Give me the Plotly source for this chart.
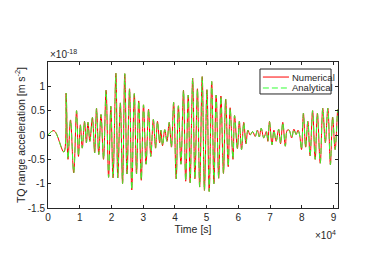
import plotly.graph_objects as go

# Local extrema (time in 1e4 s, acceleration in 1e-18 m s^-2)
time_1e4 = [0.00, 0.19, 0.50, 0.57, 0.63, 0.71, 0.81, 0.90, 0.96, 1.02, 1.08, 1.15, 1.21, 1.26, 1.32,
            1.40, 1.47, 1.53, 1.60, 1.67, 1.75, 1.83, 1.91, 1.98, 2.05, 2.14, 2.20, 2.28, 2.35, 2.42,
            2.49, 2.57, 2.64, 2.72, 2.79, 2.86, 2.94, 3.01, 3.09, 3.17, 3.24, 3.32, 3.39, 3.45, 3.52,
            3.56, 3.61, 3.68, 3.75, 3.82, 3.89, 3.96, 4.04, 4.11, 4.19, 4.27, 4.34, 4.42, 4.48, 4.56,
            4.63, 4.71, 4.78, 4.86, 4.93, 5.01, 5.08, 5.16, 5.23, 5.30, 5.38, 5.45, 5.53, 5.60, 5.68,
            5.74, 5.83, 5.88, 5.97, 6.03, 6.10, 6.17, 6.24, 6.30, 6.37, 6.45, 6.53, 6.60, 6.66, 6.72,
            6.80, 6.88, 6.93, 6.98, 7.06, 7.12, 7.19, 7.27, 7.33, 7.40, 7.48, 7.54, 7.60, 7.68, 7.75,
            7.82, 7.88, 7.93, 7.99, 8.05, 8.12, 8.19, 8.26, 8.34, 8.42, 8.49, 8.58, 8.66, 8.74, 8.82,
            8.90, 8.97, 9.05, 9.13, 9.14]
numerical = [0.00, 0.09, -0.35, 0.86, -0.50, 0.31, -0.78, 0.50, -0.44, 0.21, -0.27, 0.28, -0.16, 0.26, -0.13,
             0.36, -0.37, 0.55, -0.40, 0.42, -0.50, 0.92, -0.87, 0.59, -0.88, 1.27, -0.88, 0.66, -1.00, 1.26,
             -0.80, 0.95, -1.13, 0.85, -0.80, 0.70, -0.93, 0.62, -0.60, 0.53, -0.44, 0.32, -0.27, 0.28, -0.16,
             0.10, -0.22, 0.11, -0.13, 0.26, -0.25, 0.67, -0.90, 0.60, -0.60, 0.92, -0.95, 0.82, -0.98, 1.17,
             -0.90, 0.95, -1.07, 1.20, -1.14, 0.93, -1.16, 1.10, -1.00, 0.82, -0.89, 0.80, -0.79, 0.74, -0.65,
             0.56, -0.50, 0.40, -0.28, 0.28, -0.30, 0.26, -0.18, 0.10, 0.00, 0.07, -0.03, 0.10, -0.04, 0.14,
             -0.06, 0.07, -0.13, 0.28, -0.20, 0.10, -0.13, 0.12, -0.18, 0.26, -0.23, 0.10, 0.10, -0.06, 0.12,
             0.01, 0.10, 0.00, -0.30, 0.45, -0.25, 0.28, -0.43, 0.50, -0.50, 0.45, -0.58, 0.55, -0.16, 0.55,
             -0.61, 0.37, -0.30, 0.52, 0.40]
analytical = [0.00, 0.09, -0.35, 0.86, -0.50, 0.31, -0.78, 0.50, -0.44, 0.21, -0.27, 0.28, -0.16, 0.26, -0.13,
              0.36, -0.37, 0.55, -0.40, 0.42, -0.50, 0.92, -0.87, 0.59, -0.88, 1.27, -0.88, 0.66, -1.00, 1.26,
              -0.80, 0.95, -1.13, 0.85, -0.80, 0.70, -0.93, 0.62, -0.60, 0.53, -0.44, 0.32, -0.27, 0.28, -0.16,
              0.10, -0.22, 0.11, -0.13, 0.26, -0.25, 0.67, -0.90, 0.60, -0.60, 0.92, -0.95, 0.82, -0.98, 1.17,
              -0.90, 0.95, -1.07, 1.20, -1.14, 0.93, -1.16, 1.10, -1.00, 0.82, -0.89, 0.80, -0.79, 0.74, -0.65,
              0.56, -0.50, 0.40, -0.28, 0.28, -0.30, 0.26, -0.18, 0.10, 0.00, 0.07, -0.03, 0.10, -0.04, 0.14,
              -0.06, 0.07, -0.13, 0.28, -0.20, 0.10, -0.13, 0.12, -0.18, 0.26, -0.23, 0.10, 0.10, -0.06, 0.12,
              0.01, 0.10, 0.00, -0.30, 0.45, -0.25, 0.28, -0.43, 0.50, -0.50, 0.45, -0.58, 0.55, -0.16, 0.55,
              -0.61, 0.37, -0.30, 0.52, 0.40]

x_tick_vals = [0, 1, 2, 3, 4, 5, 6, 7, 8, 9]
x_tick_text = ["0", "1", "2", "3", "4", "5", "6", "7", "8", "9"]
y_tick_vals = [-1.5, -1, -0.5, 0, 0.5, 1]
y_tick_text = ["-1.5", "-1", "-0.5", "0", "0.5", "1"]
series_names = ["Numerical", "Analytical"]

AX = "#262626"
FONT = "Liberation Sans, Arial, sans-serif"

fig = go.Figure()
fig.add_trace(go.Scatter(x=time_1e4, y=numerical, mode="lines", name=series_names[0],
                         line=dict(color="#FF0000", width=1, shape="spline", smoothing=1)))
fig.add_trace(go.Scatter(x=time_1e4, y=analytical, mode="lines", name=series_names[1],
                         line=dict(color="#33FF33", width=1, dash="6px,4px", shape="spline", smoothing=1)))

axis_common = dict(showline=True, linecolor=AX, linewidth=1, mirror="ticks", ticks="inside",
                   ticklen=3, tickcolor=AX, tickwidth=1, showgrid=False, zeroline=False,
                   automargin=False, tickfont=dict(family=FONT, size=10, color=AX))
fig.update_xaxes(range=[0, 9.14], tickvals=x_tick_vals, ticktext=x_tick_text,
                 title=dict(text="Time [s]", font=dict(family=FONT, size=10.5, color=AX), standoff=2),
                 **axis_common)
fig.update_yaxes(range=[-1.5, 1.5], tickvals=y_tick_vals, ticktext=y_tick_text,
                 title=dict(text="TQ range acceleration [m s<sup>-2</sup>]",
                            font=dict(family=FONT, size=10.5, color=AX), standoff=0),
                 **axis_common)

# legend drawn manually to match the small MATLAB-style box
lx0, lx1, ly0, ly1 = 0.731, 0.976, 0.781, 0.952
fig.add_shape(type="rect", xref="paper", yref="paper", x0=lx0, x1=lx1, y0=ly0, y1=ly1,
              line=dict(color=AX, width=1), fillcolor="white", layer="above")
fig.add_shape(type="line", xref="paper", yref="paper", x0=0.741, x1=0.831, y0=0.897, y1=0.897,
              line=dict(color="#FF0000", width=1), layer="above")
fig.add_shape(type="line", xref="paper", yref="paper", x0=0.741, x1=0.831, y0=0.822, y1=0.822,
              line=dict(color="#33FF33", width=1, dash="6px,3px"), layer="above")
fig.add_annotation(xref="paper", yref="paper", x=0.833, y=0.897, text=series_names[0], showarrow=False,
                   xanchor="left", yanchor="middle", font=dict(family=FONT, size=9.5, color=AX))
fig.add_annotation(xref="paper", yref="paper", x=0.833, y=0.822, text=series_names[1], showarrow=False,
                   xanchor="left", yanchor="middle", font=dict(family=FONT, size=9.5, color=AX))

# exponent labels
fig.add_annotation(xref="paper", yref="paper", x=0.0, y=1.0, text="×10<sup>-18</sup>", showarrow=False,
                   xanchor="left", yanchor="bottom", font=dict(family=FONT, size=10, color=AX))
fig.add_annotation(xref="paper", yref="paper", x=1.0, y=-0.13, text="×10<sup>4</sup>", showarrow=False,
                   xanchor="right", yanchor="top", font=dict(family=FONT, size=10, color=AX))

# page body has an 8px default margin, so the figure is 8px smaller and offsets compensated
fig.update_layout(width=366, height=272, margin=dict(l=40, r=36, t=54, b=72),
                  paper_bgcolor="white", plot_bgcolor="white", showlegend=False,
                  font=dict(family=FONT, color=AX))
fig.write_html("out.html")
